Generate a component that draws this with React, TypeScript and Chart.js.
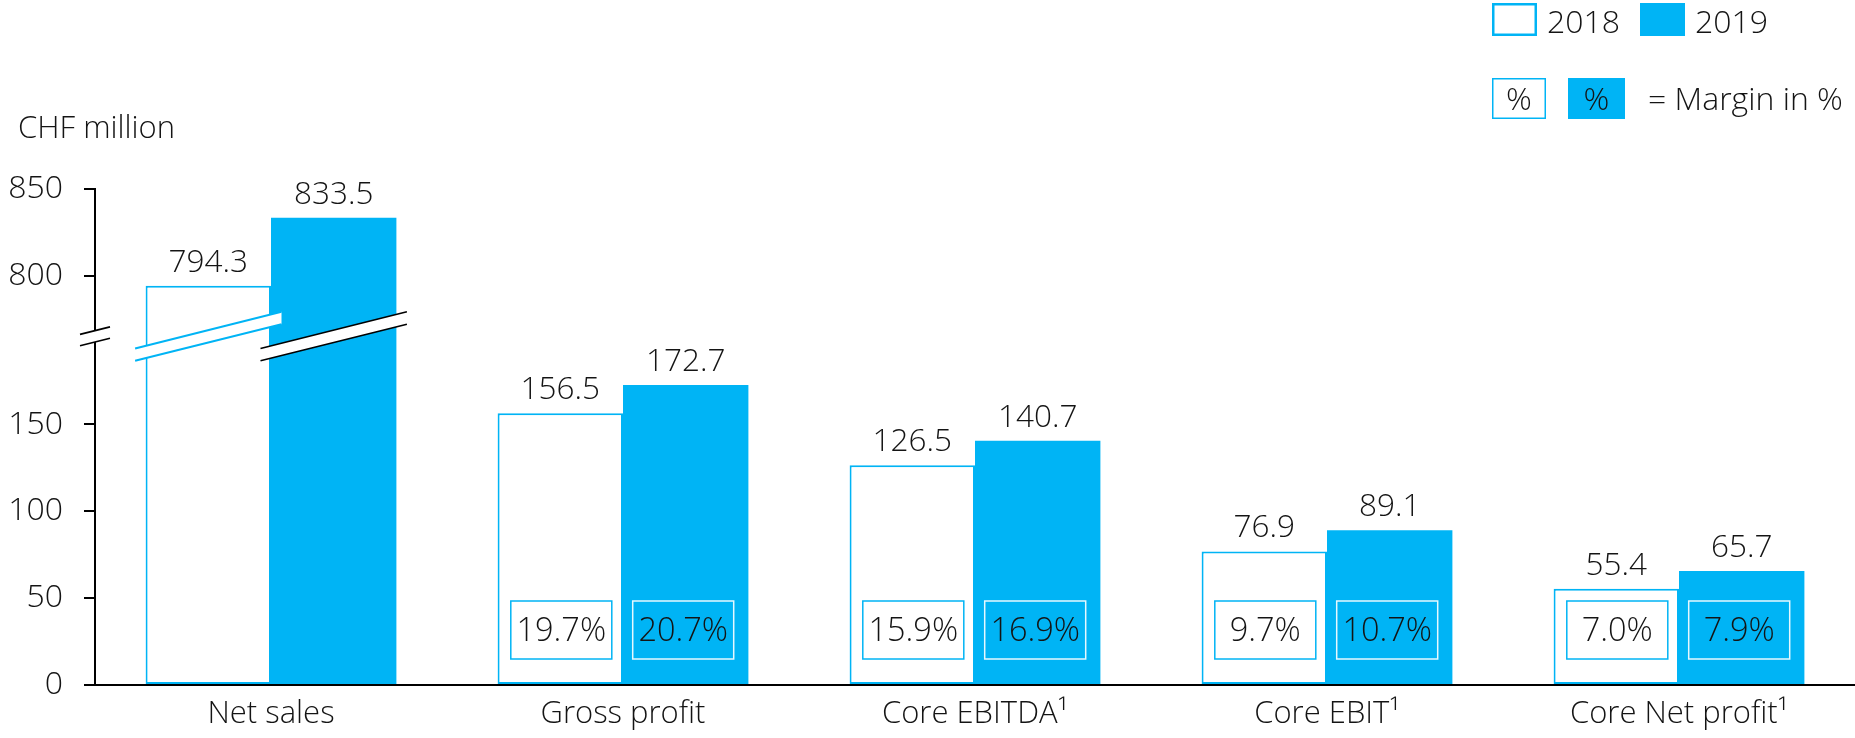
import React, { useEffect, useRef } from 'react';
import { Chart, registerables, LinearScale } from 'chart.js';

const categories = ['Net sales', 'Gross profit', 'Core EBITDA¹', 'Core EBIT¹', 'Core Net profit¹'];
const seriesLabels = ['2018', '2019'];
const values2018 = [794.3, 156.5, 126.5, 76.9, 55.4];
const values2019 = [833.5, 172.7, 140.7, 89.1, 65.7];
const margins2018 = [null, '19.7%', '15.9%', '9.7%', '7.0%'];
const margins2019 = [null, '20.7%', '16.9%', '10.7%', '7.9%'];
const yTickValues = [0, 50, 100, 150, 800, 850];

const BLUE = '#00b4f5';
const TEXT = '#141414';
const FONT = '"Open Sans", "Noto Sans", sans-serif';
const WEIGHT = '300';

// axis break: values above SPLIT are shifted down by SHIFT
const AXIS_SPLIT = 400;
const AXIS_SHIFT = 564.4;
const toAxis = (v: number) => (v > AXIS_SPLIT ? v - AXIS_SHIFT : v);

class BrokenLinearScale extends LinearScale {
  static id = 'brokenLinear';
  static defaults = (LinearScale as any).defaults;
  getPixelForValue(value: number) {
    return super.getPixelForValue(toAxis(value));
  }
  getValueForPixel(pixel: number) {
    const v = super.getValueForPixel(pixel);
    return v > 200 ? v + AXIS_SHIFT : v;
  }
}

Chart.register(...registerables, BrokenLinearScale as any);

function drawBand(ctx: CanvasRenderingContext2D, cx: number, half: number, yc: number, gap: number, color: string, lw: number) {
  const slope = 0.25;
  const x1 = cx - half, x2 = cx + half;
  const u1 = yc - gap + slope * half, u2 = yc - gap - slope * half;
  const l1 = yc + gap + slope * half, l2 = yc + gap - slope * half;
  ctx.save();
  ctx.fillStyle = '#ffffff';
  ctx.beginPath();
  ctx.moveTo(x1, u1); ctx.lineTo(x2, u2); ctx.lineTo(x2, l2); ctx.lineTo(x1, l1); ctx.closePath();
  ctx.fill();
  ctx.strokeStyle = color;
  ctx.lineWidth = lw;
  ctx.beginPath();
  ctx.moveTo(x1, u1); ctx.lineTo(x2, u2);
  ctx.moveTo(x1, l1); ctx.lineTo(x2, l2);
  ctx.stroke();
  ctx.restore();
}

const overlayPlugin = {
  id: 'overlay',
  afterDatasetsDraw(chart: any) {
    const ctx: CanvasRenderingContext2D = chart.ctx;
    const y = chart.scales.y;
    const p150 = y.getPixelForValue(150);
    const p800 = y.getPixelForValue(800);
    const yBreak = p150 + (p800 - p150) * 0.593;
    const gap = 6.2;
    const metas = [chart.getDatasetMeta(0), chart.getDatasetMeta(1)];
    const vals = [values2018, values2019];
    const margins = [margins2018, margins2019];

    // bar breaks
    vals[0].forEach((v, i) => {
      if (v > AXIS_SPLIT) {
        const b = metas[0].data[i];
        drawBand(ctx, b.x, b.width / 2 + 10.5, yBreak, gap, BLUE, 2);
      }
    });
    vals[1].forEach((v, i) => {
      if (v > AXIS_SPLIT) {
        const b = metas[1].data[i];
        drawBand(ctx, b.x, b.width / 2 + 10.5, yBreak, gap, '#000000', 1.6);
      }
    });

    // axis break
    const ax = chart.chartArea.left;
    ctx.save();
    ctx.fillStyle = '#ffffff';
    ctx.fillRect(ax - 3, yBreak - gap + 1, 6, gap * 2 - 2);
    ctx.restore();
    drawBand(ctx, ax, 15, yBreak, gap - 0.5, '#000000', 1.6);

    // value labels
    ctx.save();
    ctx.font = `${WEIGHT} 31.5px ${FONT}`;
    ctx.fillStyle = TEXT;
    ctx.textAlign = 'center';
    ctx.textBaseline = 'alphabetic';
    metas.forEach((meta, d) => {
      meta.data.forEach((b: any, i: number) => {
        ctx.fillText(vals[d][i].toFixed(1), b.x, b.y - 14);
      });
    });
    ctx.restore();

    // margin boxes
    const bottom = chart.chartArea.bottom;
    const bw = 101, bh = 58;
    metas.forEach((meta, d) => {
      meta.data.forEach((b: any, i: number) => {
        const label = margins[d][i];
        if (!label) return;
        const x0 = b.x - bw / 2 + (d === 0 ? 1 : -2.5);
        const y1 = bottom - 26;
        const y0 = y1 - bh;
        ctx.save();
        ctx.lineWidth = 1.5;
        if (d === 0) {
          ctx.fillStyle = '#ffffff';
          ctx.strokeStyle = BLUE;
        } else {
          ctx.fillStyle = BLUE;
          ctx.strokeStyle = 'rgba(255,255,255,0.9)';
        }
        ctx.fillRect(x0, y0, bw, bh);
        ctx.strokeRect(x0, y0, bw, bh);
        ctx.font = `${WEIGHT} 32.5px ${FONT}`;
        ctx.fillStyle = TEXT;
        ctx.textAlign = 'center';
        ctx.textBaseline = 'alphabetic';
        ctx.fillText(label, x0 + bw / 2, y1 - 18);
        ctx.restore();
      });
    });
  },
  afterDraw(chart: any) {
    const ctx: CanvasRenderingContext2D = chart.ctx;
    ctx.save();
    ctx.fillStyle = TEXT;
    ctx.textBaseline = 'alphabetic';
    ctx.textAlign = 'left';
    ctx.font = `${WEIGHT} 31px ${FONT}`;
    ctx.fillText('CHF million', 18, 138);

    // legend row 1
    ctx.font = `${WEIGHT} 32px ${FONT}`;
    ctx.fillStyle = '#ffffff';
    ctx.fillRect(1492, 3, 45, 33);
    ctx.strokeStyle = BLUE;
    ctx.lineWidth = 2.5;
    ctx.strokeRect(1493.25, 4.25, 42.5, 30.5);
    ctx.fillStyle = TEXT;
    ctx.fillText(seriesLabels[0], 1547, 33);
    ctx.fillStyle = BLUE;
    ctx.fillRect(1640, 3, 45, 33);
    ctx.fillStyle = TEXT;
    ctx.fillText(seriesLabels[1], 1695, 33);

    // legend row 2
    ctx.fillStyle = '#ffffff';
    ctx.fillRect(1492, 78, 54, 41);
    ctx.strokeStyle = BLUE;
    ctx.lineWidth = 1.5;
    ctx.strokeRect(1492.75, 78.75, 52.5, 39.5);
    ctx.fillStyle = BLUE;
    ctx.fillRect(1568, 78, 57, 41);
    ctx.fillStyle = TEXT;
    ctx.textAlign = 'center';
    ctx.fillText('%', 1519, 110);
    ctx.fillText('%', 1596.5, 110);
    ctx.textAlign = 'left';
    ctx.fillText('= Margin in %', 1648, 110);
    ctx.restore();
  },
};

export default function App() {
  const ref = useRef<HTMLCanvasElement | null>(null);
  useEffect(() => {
    if (!ref.current) return;
    const chart = new Chart(ref.current, {
      type: 'bar',
      data: {
        labels: categories,
        datasets: [
          {
            label: seriesLabels[0],
            data: values2018,
            backgroundColor: '#ffffff',
            borderColor: BLUE,
            borderWidth: 2,
            borderSkipped: false,
          },
          {
            label: seriesLabels[1],
            data: values2019,
            backgroundColor: BLUE,
            borderWidth: 0,
          },
        ],
      },
      options: {
        responsive: false,
        animation: false,
        layout: { padding: { top: 189, left: 0, right: 0, bottom: 0 } },
        plugins: {
          legend: { display: false },
          tooltip: { enabled: false },
        },
        datasets: {
          bar: { categoryPercentage: 0.7125, barPercentage: 1.0 },
        },
        scales: {
          x: {
            type: 'category',
            offset: true,
            grid: { display: false, drawTicks: false },
            border: { display: true, color: '#000000', width: 2 },
            ticks: {
              font: { family: FONT, size: 31, weight: WEIGHT },
              color: TEXT,
              padding: 11,
              maxRotation: 0,
              autoSkip: false,
            },
            afterFit: (s: any) => { s.height = 53; },
          },
          y: {
            type: 'brokenLinear' as any,
            min: 0,
            max: toAxis(850),
            bounds: 'data',
            grid: { drawOnChartArea: false, drawTicks: true, tickLength: 11, tickColor: '#000000', lineWidth: 2 },
            border: { display: true, color: '#000000', width: 2 },
            ticks: {
              font: { family: FONT, size: 32, weight: WEIGHT },
              color: TEXT,
              padding: 21,
              autoSkip: false,
              callback: (v: any) => String(v),
            },
            afterBuildTicks: (s: any) => {
              s.ticks = yTickValues.map((v) => ({ value: v }));
            },
            afterFit: (s: any) => { s.width = 95; },
          } as any,
        },
      },
      plugins: [overlayPlugin],
    });
    return () => chart.destroy();
  }, []);
  return (
    <div style={{ position: 'absolute', left: 0, top: 0, width: 1855, height: 738, background: '#fff' }}>
      <canvas ref={ref} width={1855} height={738} style={{ display: 'block' }} />
    </div>
  );
}
